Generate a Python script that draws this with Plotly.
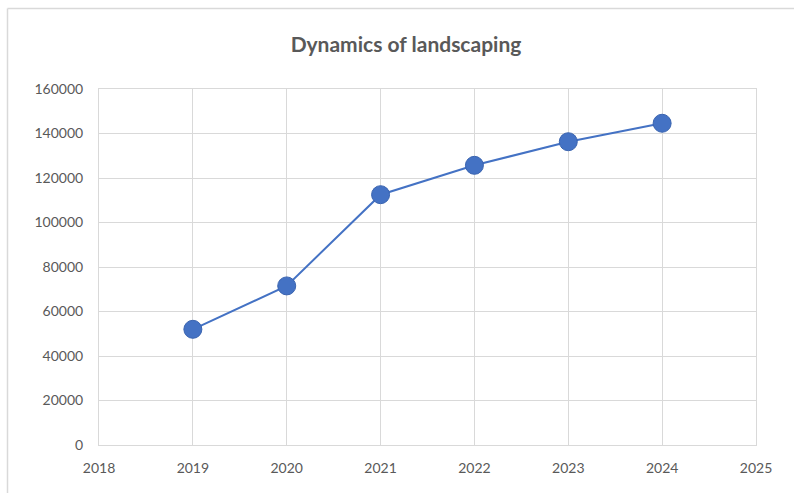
import plotly.graph_objects as go

years = [2019, 2020, 2021, 2022, 2023, 2024]
values = [52000, 71500, 112500, 125700, 136300, 144600]
x_ticks = [2018, 2019, 2020, 2021, 2022, 2023, 2024, 2025]
y_ticks = [0, 20000, 40000, 60000, 80000, 100000, 120000, 140000, 160000]
y_labels = [str(v) for v in y_ticks]

W, H = 794, 493
L, R, T, B = 99, 38, 89, 48
pw, ph = W - L - R, H - T - B

fig = go.Figure()
fig.add_trace(go.Scatter(
    x=years, y=values, mode="lines+markers",
    line=dict(color="#4472C4", width=2),
    marker=dict(size=18, color="#4472C4", line=dict(color="#3A64B0", width=1)),
    showlegend=False,
))

def px_x(p):
    return (p - L) / pw

def px_y(p):
    return (H - B - p) / ph

fig.update_layout(
    width=W, height=H,
    margin=dict(l=L, r=R, t=T, b=B),
    paper_bgcolor="white", plot_bgcolor="white",
    title=dict(text="<b>Dynamics of landscaping</b>", x=406 / W, xanchor="center",
               y=1 - 45 / H, yanchor="middle",
               font=dict(family="Lato", size=21, color="#595959")),
    font=dict(family="Lato", size=13, color="#595959"),
    xaxis=dict(range=[2018, 2025], tickvals=x_ticks, showgrid=True, gridcolor="#d9d9d9",
               gridwidth=1, zeroline=False, showline=True, linecolor="#d9d9d9", linewidth=1,
               mirror=True, ticks="", ticklabelstandoff=10, tickfont=dict(size=14, color="#595959")),
    yaxis=dict(range=[0, 160000], tickvals=y_ticks, ticktext=y_labels, showgrid=True,
               gridcolor="#d9d9d9", gridwidth=1, zeroline=False, showline=True,
               linecolor="#d9d9d9", linewidth=1, mirror=True, ticks="",
               ticklabelstandoff=12, tickfont=dict(size=14, color="#595959")),
    shapes=[
        dict(type="line", xref="paper", yref="paper", x0=px_x(7.5), x1=px_x(7.5), y0=px_y(8.5), y1=px_y(500),
             line=dict(color="#d9d9d9", width=1.5)),
        dict(type="line", xref="paper", yref="paper", x0=px_x(7.5), x1=px_x(800), y0=px_y(8.5), y1=px_y(8.5),
             line=dict(color="#d9d9d9", width=1.5)),
    ],
)

fig.write_html("out.html", config={"displayModeBar": False},
               post_script="document.body.style.margin='0';")
